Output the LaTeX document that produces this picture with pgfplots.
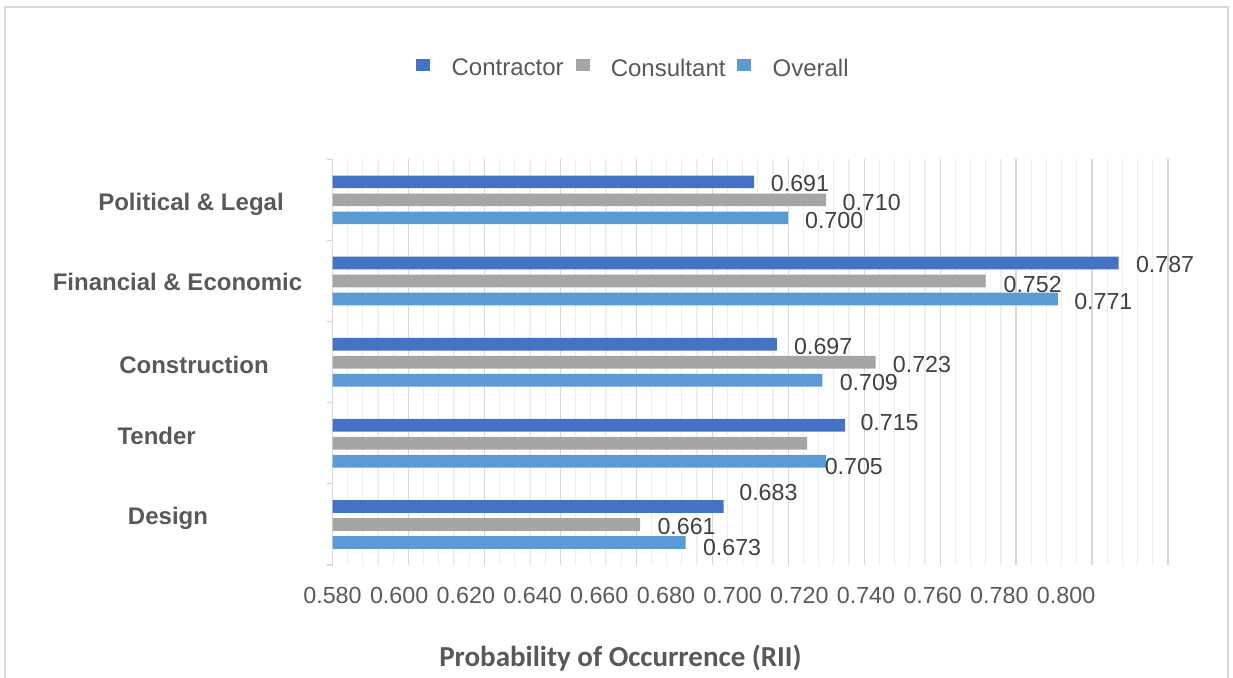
\documentclass[border=0pt]{standalone}
\usepackage{fontspec}
\setmainfont{Liberation Sans}
\newfontfamily\titlefont{Carlito}
\usepackage{pgfplots}
\usepackage{pgfplotstable}
\pgfplotsset{compat=1.18}

\definecolor{contractor}{HTML}{4472C4}
\definecolor{consultant}{HTML}{A5A5A5}
\definecolor{overall}{HTML}{5B9BD5}
\definecolor{txt}{HTML}{595959}
\definecolor{lbl}{HTML}{404040}
\definecolor{gridmaj}{HTML}{D9D9D9}
\definecolor{gridmin}{HTML}{EEEEEE}

% y: 0 Design, 1 Tender, 2 Construction, 3 Financial & Economic, 4 Political & Legal
% dx, dy: position of the value label relative to the bar end (pt); show: label drawn
\pgfplotstableread{
y x dx dy show
0 0.683 7.65 16 1
1 0.715 7.5 10.5 1
2 0.697 8.5 8 1
3 0.787 8.5 8.35 1
4 0.691 8.25 8.1 1
}\contractortab
\pgfplotstableread{
y x dx dy show
0 0.661 8.5 -1 1
1 0.705 8.6 -11.65 1
2 0.723 8.5 -1 1
3 0.752 8.75 -1.5 1
4 0.710 8 -1.2 1
}\consultanttab
\pgfplotstableread{
y x dx dy show
0 0.673 8.5 -11.35 1
1 0.710 8.5 -10 0
2 0.709 8.5 -10 1
3 0.771 8 -10.4 1
4 0.700 8.25 -10.2 1
}\overalltab

% axis scale: 1898.86 pt per x unit, 40.57 pt per category
\pgfplotsset{
  sqlegend/.style={legend image code/.code={\fill[##1] (0pt,-0.9pt) rectangle (7pt,5.1pt);}},
  bars/.style={xbar, bar width=6.35pt, draw=none, sqlegend},
  lbls/.style={
    forget plot, draw=none, mark=none,
    point meta=explicit,
    restrict expr to domain={\thisrow{show}}{0.5:1.5},
    nodes near coords={\pgfmathprintnumber[fixed,fixed zerofill,precision=3,assume math mode=true]{\pgfplotspointmeta}},
    nodes near coords style={anchor=west, inner sep=0pt,
      font=\fontsize{11.6}{13}\selectfont, text=lbl},
  },
}

\begin{document}
\begin{tikzpicture}
\path[use as bounding box] (0pt,0pt) rectangle (616.5pt,338.5pt);
\begin{axis}[
  at={(166.25pt,56pt)}, anchor=south west,
  scale only axis, width=417.75pt, height=202.85pt,
  xmin=0.58, xmax=0.80, ymin=-0.5, ymax=4.5,
  clip=false,
  axis x line*=bottom, axis y line*=left,
  x axis line style={draw=none},
  y axis line style={draw=gridmaj, line width=0.6pt},
  xtick={0.58,0.60,...,0.801},
  xticklabels={},
  minor x tick num=4,
  xmajorgrids, xminorgrids,
  major grid style={draw=gridmaj, line width=0.6pt},
  minor grid style={draw=gridmin, line width=0.6pt},
  xtick style={draw=none},
  minor tick length=0pt,
  extra x ticks={0.580,0.59756,0.61512,0.63268,0.65024,0.6678,0.68536,0.70292,0.72048,0.73804,0.7556,0.77316},
  extra x tick labels={0.580,0.600,0.620,0.640,0.660,0.680,0.700,0.720,0.740,0.760,0.780,0.800},
  extra x tick style={grid=none, major tick length=0pt,
    xticklabel style={anchor=north, inner sep=0pt, yshift=-10.85pt,
      font=\fontsize{11.65}{13}\selectfont, text=txt}},
  ytick={-0.5,0.5,...,4.6},
  yticklabels={},
  tick align=outside,
  major tick length=3pt,
  ytick style={draw=gridmaj, line width=0.6pt},
  legend style={at={(axis description cs:0.0999,1.2231)}, anchor=west,
    draw=none, fill=none, inner sep=0pt, legend columns=3,
    font=\fontsize{12}{14}\selectfont, text=txt,
    nodes={inner sep=0pt},
    /tikz/every odd column/.style={column sep=10.65pt},
    /tikz/every even column/.style={column sep=5.9pt}},
  legend cell align=left,
]
\addplot[bars, fill=contractor, bar shift=9pt] table[x=x, y=y] {\contractortab};
\addlegendentry{Contractor}
\addplot[bars, fill=consultant, bar shift=0pt] table[x=x, y=y] {\consultanttab};
\addlegendentry{Consultant}
\addplot[bars, fill=overall, bar shift=-9pt] table[x=x, y=y] {\overalltab};
\addlegendentry{Overall}
% value labels
\addplot[lbls] table[x expr={\thisrow{x}+\thisrow{dx}/1898.86}, y expr={\thisrow{y}+\thisrow{dy}/40.57}, meta=x] {\contractortab};
\addplot[lbls] table[x expr={\thisrow{x}+\thisrow{dx}/1898.86}, y expr={\thisrow{y}+\thisrow{dy}/40.57}, meta=x] {\consultanttab};
\addplot[lbls] table[x expr={\thisrow{x}+\thisrow{dx}/1898.86}, y expr={\thisrow{y}+\thisrow{dy}/40.57}, meta=x] {\overalltab};
\end{axis}

\begin{scope}[shift={(0pt,338.5pt)}, x=0.5pt, y=-0.5pt]
  % chart frame
  \draw[gridmaj, line width=0.75pt] (5,680) -- (5,7) -- (1228,7) -- (1228,680);
  % category names
  \begin{scope}[every node/.style={anchor=base, text=txt, inner sep=0pt,
      font=\bfseries\fontsize{12}{14}\selectfont}]
    \node at (191,210) {Political \& Legal};
    \node at (177.5,290) {Financial \& Economic};
    \node at (194,373.3) {Construction};
    \node at (156.7,444) {Tender};
    \node at (168,524.5) {Design};
  \end{scope}
  % axis title
  \node[anchor=base, inner sep=0pt, text=txt, font=\titlefont\bfseries\fontsize{14.5}{17}\selectfont]
    at (620.5,666) {Probability of Occurrence (RII)};
\end{scope}
\end{tikzpicture}
\end{document}
